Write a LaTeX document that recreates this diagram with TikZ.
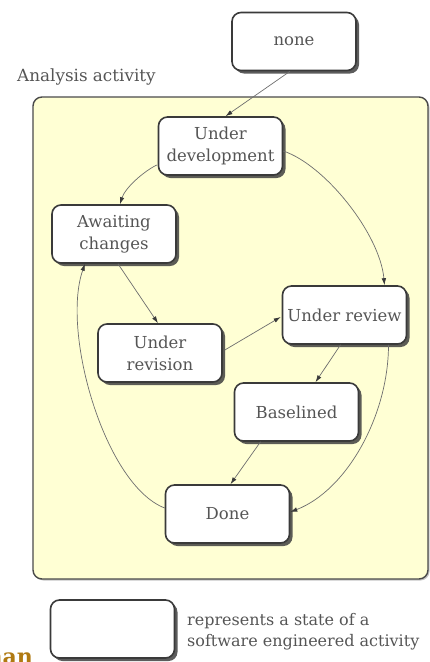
\documentclass[tikz,border=0pt]{standalone}
\usepackage{fontspec}
\setmainfont{DejaVu Serif}
\usetikzlibrary{shadows,arrows.meta,calc}
\definecolor{panelfill}{HTML}{FFFFD4}
\definecolor{panelline}{HTML}{4A4A4A}
\definecolor{boxline}{HTML}{3A3A3A}
\definecolor{labelgray}{HTML}{555555}
\definecolor{wiregray}{HTML}{6E6E6E}
\definecolor{tipgray}{HTML}{3A3A3A}
\definecolor{brandgold}{HTML}{B07A12}

\begin{document}
\begin{tikzpicture}[x=1pt,y=-1pt,
  panelbox/.style={draw=panelline, line width=1.4pt, rounded corners=9pt, fill=panelfill,
    inner sep=0pt, drop shadow={shadow xshift=1.5pt, shadow yshift=-1.5pt, fill=black!45}},
  statebox/.style={draw=boxline, line width=1.6pt, rounded corners=9pt, fill=white,
    minimum width=124pt, minimum height=58pt, inner sep=0pt, align=center,
    text=labelgray, font=\fontsize{16.5}{22}\selectfont,
    drop shadow={shadow xshift=3pt, shadow yshift=-3pt, fill=black!75, opacity=0.85}},
  flow/.style={draw=wiregray, line width=0.7pt, -{Latex[length=7pt,width=4.5pt,color=tipgray]}},
  caption/.style={text=labelgray, font=\fontsize{16.8}{21}\selectfont, inner sep=0pt}]

\useasboundingbox (0,0) rectangle (429,662);

% container for the activity's states
\node[panelbox, minimum width=395pt, minimum height=482pt] (panel) at (230.5,338) {};
\node[caption, anchor=base west] (title) at (17,81) {Analysis activity};

% states
\node[statebox] (none)   at (294,41.5)  {none};
\node[statebox] (dev)    at (220.5,146) {Under\\development};
\node[statebox] (await)  at (114,234)   {Awaiting\\changes};
\node[statebox] (rev)    at (160,353)   {Under\\revision};
\node[statebox] (review) at (344.5,315) {Under review};
\node[statebox] (base)   at (296.5,412) {Baselined};
\node[statebox] (done)   at (227.5,514) {Done};

% transitions
\draw[flow] ($(none.south)+(-4,0)$) -- ($(dev.north)+(5,0)$);
\draw[flow] ($(dev.west)+(-1,19)$) .. controls +(-14,7) and +(5,-16) .. ($(await.north)+(6,0)$);
\draw[flow] ($(dev.east)+(0,5)$) .. controls +(42,14) and +(-4.5,-51) .. ($(review.north)+(40,0)$);
\draw[flow] ($(await.south)+(4,0)$) -- ($(rev.north)+(-2,0)$);
\draw[flow] ($(rev.east)+(2,-3)$) -- ($(review.west)+(-1,2)$);
\draw[flow] ($(review.south)+(-4,0)$) -- ($(base.north)+(19,0)$);
\draw[flow] ($(base.south)+(-36,0)$) -- ($(done.north)+(3,0)$);
\draw[flow] ($(review.south)+(44,0)$) .. controls +(0,70) and +(57,-22) .. ($(done.east)+(0,-2)$);
\draw[flow] ($(done.west)+(0,-6)$) .. controls +(-60,-23) and +(-24,68) .. ($(await.south)+(-29,0)$);

% key
\node[statebox] (key) at (112.5,629) {};
\node[caption, anchor=west, align=left, font=\fontsize{16}{21}\selectfont] (keytext) at (187,632)
  {represents a state of a\\software engineered activity};

\node[anchor=base east, text=brandgold, font=\fontsize{22}{22}\selectfont\bfseries,
  inner sep=0pt] (brand) at (33,664) {han};
\end{tikzpicture}
\end{document}
